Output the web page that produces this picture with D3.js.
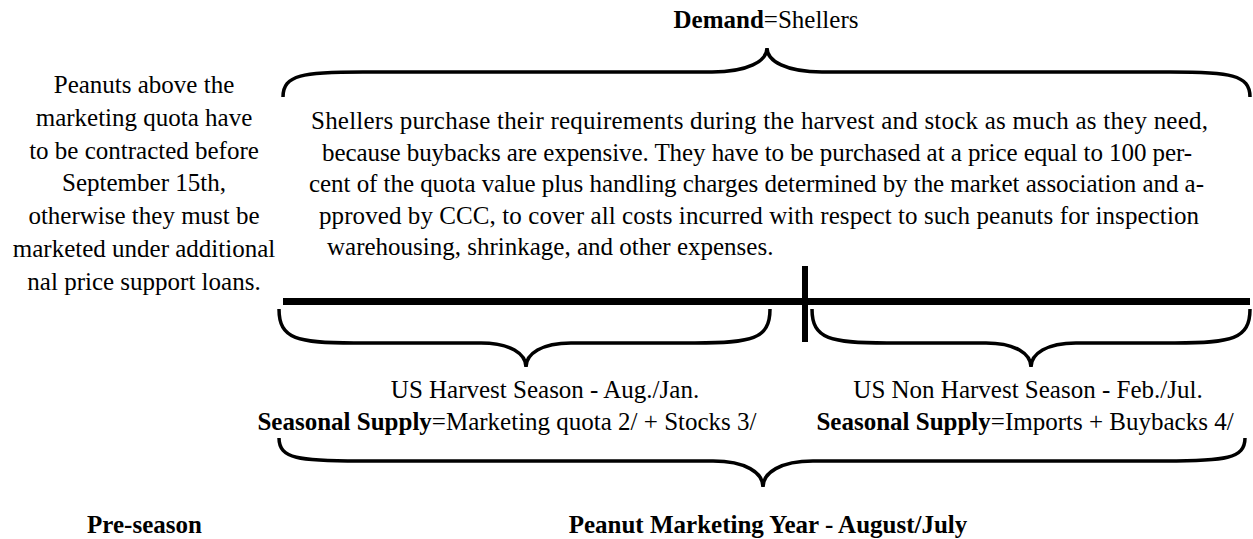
<!DOCTYPE html>
<html>
<head>
<meta charset="utf-8">
<script src="https://cdn.jsdelivr.net/npm/d3@7/dist/d3.min.js"></script>
<style>
  body { margin: 0; background: #fff; }
  svg text { font-family: "Liberation Serif", "Times New Roman", serif; font-size: 25px; fill: #000; }
</style>
</head>
<body>
<svg id="peanut_diagram" width="1253" height="539"></svg>
<script>
// texts of the diagram
var demandLabel = ['Demand', '=Shellers']
var preseasonNote = [
  'Peanuts above the',
  'marketing quota have',
  'to be contracted before',
  'September 15th,',
  'otherwise they must be',
  'marketed under additional',
  'nal price support loans.'
]
var shellerNote = [
  'Shellers purchase their requirements during the harvest and stock as much as they need,',
  'because buybacks are expensive. They have to be purchased at a price equal to 100 per-',
  'cent of the quota value plus handling charges determined by the market association and a-',
  'pproved by CCC, to cover all costs incurred with respect to such peanuts for inspection',
  'warehousing, shrinkage, and other expenses.'
]
var seasonNames = ['US Harvest Season - Aug./Jan.', 'US Non Harvest Season - Feb./Jul.']
var supplyBold = ['Seasonal Supply', 'Seasonal Supply']
var supplyRest = ['=Marketing quota 2/ + Stocks 3/', '=Imports + Buybacks 4/']
var footerLabels = ['Pre-season', 'Peanut Marketing Year - August/July']

var svg = d3.select('#peanut_diagram')

// timeline scale: 0 = start of marketing year, 1 = end
var x = d3.scaleLinear().domain([0, 1]).range([283, 1250])

/** brace path: ends at yEnd, arms at yArm, tip at yTip */
function brace (x0, x1, xTip, yEnd, yArm, yTip, r, s) {
  var p = d3.path()
  p.moveTo(x0, yEnd)
  p.bezierCurveTo(x0, yEnd + (yArm - yEnd) * 0.9, x0 + r * 0.25, yArm, x0 + r, yArm)
  p.lineTo(xTip - s, yArm)
  p.bezierCurveTo(xTip - s * 0.35, yArm, xTip, yArm + (yTip - yArm) * 0.45, xTip, yTip)
  p.bezierCurveTo(xTip, yArm + (yTip - yArm) * 0.45, xTip + s * 0.35, yArm, xTip + s, yArm)
  p.lineTo(x1 - r, yArm)
  p.bezierCurveTo(x1 - r * 0.25, yArm, x1, yEnd + (yArm - yEnd) * 0.9, x1, yEnd)
  return p.toString()
}

function drawBrace (b) {
  svg.append('path').attr('d', brace(b[0], b[1], b[2], b[3], b[4], b[5], b[6], b[7]))
    .attr('fill', 'none').attr('stroke', 'black').attr('stroke-width', 3.5)
}

/** top label */
var demand = svg.append('text').attr('x', 766).attr('y', 28).attr('text-anchor', 'middle')
demand.append('tspan').attr('font-weight', 'bold').text(demandLabel[0])
demand.append('tspan').text(demandLabel[1])

/** braces */
drawBrace([x(0), x(1), 767, 97, 72, 48, 80, 55])
drawBrace([279, 770, 526, 309, 343, 367, 75, 45])
drawBrace([812, x(1), 1031, 309, 343, 367, 75, 45])
drawBrace([279, 1245, 763, 438, 461, 487, 80, 50])

/** timeline */
svg.append('line').attr('x1', x(0)).attr('x2', x(1)).attr('y1', 301.5).attr('y2', 301.5)
  .attr('stroke', 'black').attr('stroke-width', 7)
svg.append('line').attr('x1', 805).attr('x2', 805).attr('y1', 266).attr('y2', 342)
  .attr('stroke', 'black').attr('stroke-width', 6)

/** left note */
svg.selectAll('text.pre').data(preseasonNote).enter().append('text').attr('class', 'pre')
  .attr('x', 144).attr('y', function (d, i) { return 93 + i * 32.8 })
  .attr('text-anchor', 'middle').text(function (d) { return d })

/** shellers note (justified lines) */
var noteX = [311, 322, 309, 319, 327]
var noteW = [897, 870, 895, 880, 0]
svg.selectAll('text.note').data(shellerNote).enter().append('text').attr('class', 'note')
  .attr('x', function (d, i) { return noteX[i] }).attr('y', function (d, i) { return 129 + i * 31.5 })
  .each(function (d, i) {
    if (noteW[i]) d3.select(this).attr('textLength', noteW[i]).attr('lengthAdjust', 'spacing')
  })
  .text(function (d) { return d })

/** season labels */
var seasonX = [545, 1028]
var supplyX = [507, 1025]
seasonNames.forEach(function (d, i) {
  svg.append('text').attr('x', seasonX[i]).attr('y', 398).attr('text-anchor', 'middle').text(d)
  var t = svg.append('text').attr('x', supplyX[i]).attr('y', 430).attr('text-anchor', 'middle')
  t.append('tspan').attr('font-weight', 'bold').text(supplyBold[i])
  t.append('tspan').text(supplyRest[i])
})

/** footer */
var footerX = [144.5, 768]
footerLabels.forEach(function (d, i) {
  svg.append('text').attr('x', footerX[i]).attr('y', 533).attr('text-anchor', 'middle')
    .attr('font-weight', 'bold').text(d)
})
</script>
</body>
</html>
